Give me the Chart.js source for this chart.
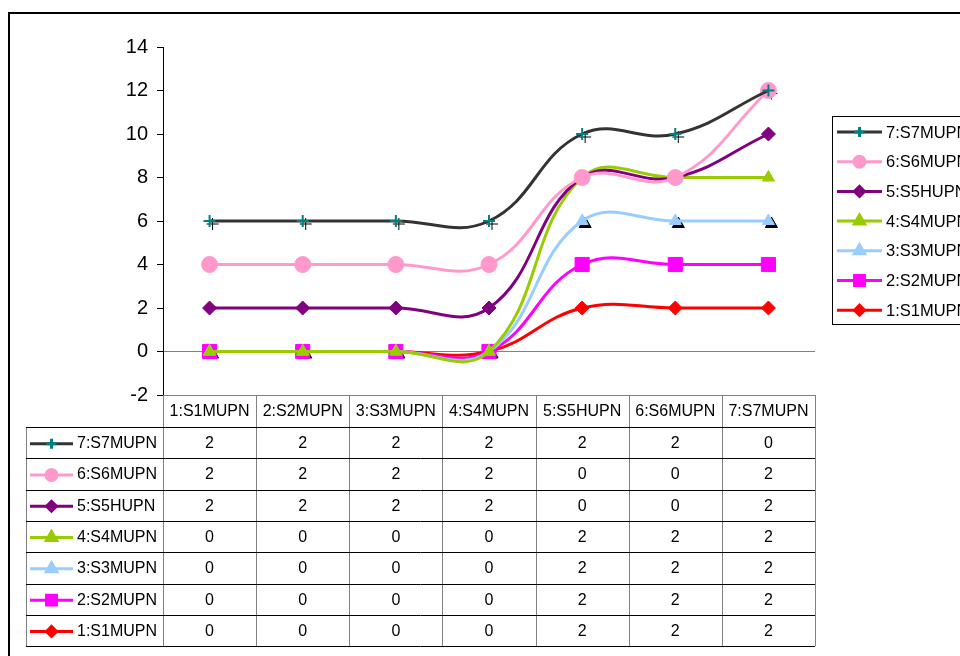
<!DOCTYPE html>
<html>
<head>
<meta charset="utf-8">
<script src="https://cdn.jsdelivr.net/npm/chart.js@4.4.0/dist/chart.umd.min.js"></script>
<style>
  html, body { margin: 0; background: #fff; }
  #wrap { width: 960px; height: 656px; position: relative; }
</style>
</head>
<body>
<div id="wrap"><canvas id="chart"></canvas></div>
<script>
// categories along the x axis (also the header row of the table)
const categories = ["1:S1MUPN", "2:S2MUPN", "3:S3MUPN", "4:S4MUPN", "5:S5HUPN", "6:S6MUPN", "7:S7MUPN"];

// per-series values, bottom of the stack first
const seriesNames = ["1:S1MUPN", "2:S2MUPN", "3:S3MUPN", "4:S4MUPN", "5:S5HUPN", "6:S6MUPN", "7:S7MUPN"];
const s1 = [0, 0, 0, 0, 2, 2, 2];
const s2 = [0, 0, 0, 0, 2, 2, 2];
const s3 = [0, 0, 0, 0, 2, 2, 2];
const s4 = [0, 0, 0, 0, 2, 2, 2];
const s5 = [2, 2, 2, 2, 0, 0, 2];
const s6 = [2, 2, 2, 2, 0, 0, 2];
const s7 = [2, 2, 2, 2, 2, 2, 0];
const seriesValues = [s1, s2, s3, s4, s5, s6, s7];

const yMin = -2, yMax = 14, yStep = 2;

// r = marker radius on the plot, k = radius in the keys
const styles = [
  { line: "#FF0000", fill: "#FF0000", shape: "rectRot", r: 7, k: 5 },
  { line: "#FF00FF", fill: "#FF00FF", shape: "rect", r: 10, k: 7 },
  { line: "#99CCFF", fill: "#99CCFF", shape: "triangle", r: 7, k: 6, shadow: true },
  { line: "#99CC00", fill: "#99CC00", shape: "triangle", r: 7, k: 6 },
  { line: "#800080", fill: "#800080", shape: "rectRot", r: 7, k: 5 },
  { line: "#FF99CC", fill: "#FF99CC", shape: "circle", r: 8, k: 5.5 },
  { line: "#333333", fill: "#008080", shape: "cross", r: 6, k: 5, shadow: true },
];

const FONT = '"Liberation Sans", Arial, sans-serif';

// running totals (stacked lines)
const totals = [];
seriesValues.forEach((vals, i) => {
  totals.push(vals.map((v, j) => v + (i ? totals[i - 1][j] : 0)));
});

// top series first so it is painted last (on top)
const datasets = seriesNames.map((name, i) => ({
  label: name,
  data: totals[i],
  borderColor: styles[i].line,
  borderWidth: 3,
  backgroundColor: styles[i].fill,
  pointStyle: styles[i].shape,
  pointRadius: styles[i].r,
  pointBackgroundColor: styles[i].fill,
  pointBorderColor: styles[i].fill,
  pointBorderWidth: styles[i].shape === "cross" ? 2 : 1,
  tension: 0.42,
  fill: false,
})).reverse();

function drawKey(ctx, i, x0, x1, y) {
  const st = styles[i];
  ctx.save();
  ctx.strokeStyle = st.line;
  ctx.lineWidth = 3;
  ctx.beginPath();
  ctx.moveTo(x0, y);
  ctx.lineTo(x1, y);
  ctx.stroke();
  ctx.fillStyle = st.fill;
  ctx.strokeStyle = st.fill;
  Chart.helpers.drawPoint(ctx, {
    pointStyle: st.shape,
    radius: st.k,
    rotation: 0,
    borderWidth: st.shape === "cross" ? 1.5 : 1,
  }, (x0 + x1) / 2, y);
  ctx.restore();
}

const extras = {
  id: "extras",
  beforeDatasetsDraw(chart) {
    // offset dark copies of some markers
    const ctx = chart.ctx;
    chart.data.datasets.forEach((ds, di) => {
      const si = seriesNames.indexOf(ds.label);
      const st = styles[si];
      if (!st.shadow) return;
      const meta = chart.getDatasetMeta(di);
      ctx.save();
      ctx.fillStyle = "#000";
      ctx.strokeStyle = "#000";
      meta.data.forEach(pt => {
        Chart.helpers.drawPoint(ctx, {
          pointStyle: st.shape, radius: st.r, rotation: 0,
          borderWidth: st.shape === "cross" ? 1.5 : 1,
        }, pt.x + 3, pt.y + 3);
      });
      ctx.restore();
    });
  },
  afterDraw(chart) {
    const ctx = chart.ctx;
    const area = chart.chartArea;
    const xs = chart.scales.x;
    const colW = (area.right - area.left) / categories.length;
    const headTop = area.bottom;
    const headH = 32;
    const rowH = 31.3;
    const tableLeft = 26;
    const rows = seriesNames.length;
    const tableBottom = headTop + headH + rows * rowH;

    ctx.save();
    ctx.font = "16px " + FONT;
    ctx.textBaseline = "middle";
    ctx.lineWidth = 1;

    // vertical cell borders
    ctx.strokeStyle = "#808080";
    for (let k = 0; k <= categories.length; k++) {
      const x = Math.round(area.left + k * colW) + 0.5;
      ctx.beginPath();
      ctx.moveTo(x, headTop);
      ctx.lineTo(x, tableBottom);
      ctx.stroke();
    }
    ctx.beginPath();
    ctx.moveTo(tableLeft + 0.5, headTop + headH);
    ctx.lineTo(tableLeft + 0.5, tableBottom);
    ctx.stroke();

    // horizontal borders
    ctx.strokeStyle = "#000";
    for (let r = 0; r <= rows; r++) {
      const y = Math.round(headTop + headH + r * rowH) + 0.5;
      ctx.beginPath();
      ctx.moveTo(tableLeft, y);
      ctx.lineTo(area.right, y);
      ctx.stroke();
    }

    // header row
    ctx.fillStyle = "#000";
    ctx.textAlign = "center";
    categories.forEach((c, j) => {
      ctx.fillText(c, xs.getPixelForValue(j), headTop + headH / 2 + 1);
    });

    // one row per series, top series first
    for (let r = 0; r < rows; r++) {
      const si = rows - 1 - r;
      const yc = headTop + headH + r * rowH + rowH / 2 + 1;
      drawKey(ctx, si, 30, 73, yc);
      ctx.fillStyle = "#000";
      ctx.textAlign = "left";
      ctx.fillText(seriesNames[si], 77, yc);
      ctx.textAlign = "center";
      seriesValues[si].forEach((v, j) => {
        ctx.fillText(String(v), xs.getPixelForValue(j), yc);
      });
    }

    // legend box on the right
    ctx.strokeStyle = "#000";
    ctx.strokeRect(832.5, 116.5, 200, 208);
    ctx.font = "16.5px " + FONT;
    ctx.textAlign = "left";
    for (let r = 0; r < rows; r++) {
      const si = rows - 1 - r;
      const yc = 132 + r * 29.7;
      drawKey(ctx, si, 837, 882, yc);
      ctx.fillStyle = "#000";
      ctx.fillText(seriesNames[si], 886, yc + 1);
    }

    // outer frame
    ctx.lineWidth = 2;
    ctx.strokeRect(9, 13, 1000, 700);
    ctx.restore();
  },
};

new Chart(document.getElementById("chart"), {
  type: "line",
  data: { labels: categories, datasets },
  options: {
    responsive: true,
    maintainAspectRatio: false,
    animation: false,
    events: [],
    layout: { padding: { top: 47, right: 145, bottom: 261, left: 0 } },
    plugins: { legend: { display: false }, tooltip: { enabled: false } },
    scales: {
      x: { display: false, offset: true },
      y: {
        min: yMin,
        max: yMax,
        afterFit(scale) { scale.width = 163; },
        ticks: {
          stepSize: yStep,
          color: "#000",
          padding: 9,
          font: { family: FONT, size: 20 },
        },
        grid: {
          color: c => (c.tick && (c.tick.value === 0 || c.tick.value === yMin)) ? "#808080" : "rgba(0,0,0,0)",
          tickColor: "#000",
          tickLength: 6,
          lineWidth: 1,
        },
        border: { color: "#000", width: 1 },
      },
    },
  },
  plugins: [extras],
});
</script>
</body>
</html>
